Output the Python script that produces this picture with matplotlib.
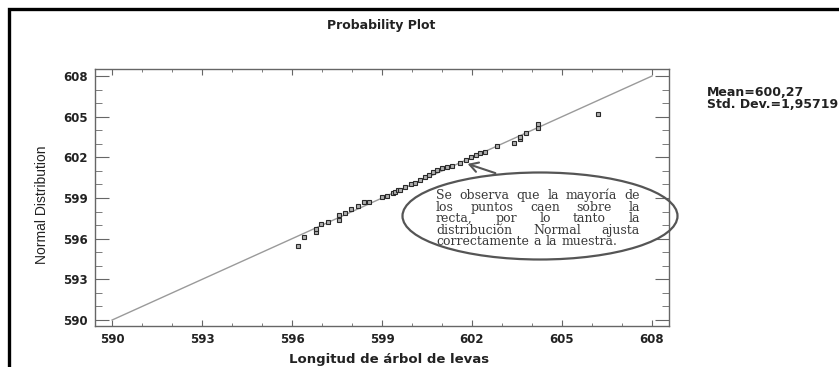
import matplotlib
matplotlib.use("Agg")
import matplotlib.pyplot as plt
from matplotlib.patches import Ellipse, Rectangle, FancyArrowPatch
from matplotlib.ticker import MultipleLocator

# Data
sample = [596.2, 596.4, 596.8, 596.8, 596.97, 597.2, 597.57, 597.57, 597.77, 597.97,
          598.2, 598.4, 598.57, 599.0, 599.17, 599.37, 599.43, 599.53, 599.6, 599.77,
          599.97, 600.1, 600.27, 600.43, 600.57, 600.7, 600.83, 601.0, 601.17, 601.33,
          601.6, 601.8, 601.97, 602.13, 602.27, 602.43, 602.83, 603.4, 603.6, 603.6,
          603.8, 604.2, 604.2, 606.2]
normal_q = [595.46, 596.1, 596.5, 596.7, 597.08, 597.2, 597.37, 597.74, 597.89, 598.19,
            598.4, 598.7, 598.7, 599.07, 599.14, 599.37, 599.44, 599.59, 599.59, 599.8,
            600.03, 600.1, 600.32, 600.55, 600.69, 600.9, 601.06, 601.2, 601.28, 601.36,
            601.58, 601.8, 602.0, 602.17, 602.3, 602.4, 602.83, 603.05, 603.35, 603.5,
            603.8, 604.16, 604.45, 605.2]
fit_line = [590, 608]
ticks = [590, 593, 596, 599, 602, 605, 608]
mean_txt = "Mean=600,27"
std_txt = "Std. Dev.=1,95719"
note_lines = ["Se observa que la mayoría de",
              "los puntos caen sobre la",
              "recta, por lo tanto la",
              "distribución Normal ajusta",
              "correctamente a la muestra."]

W, H = 839, 367
fig = plt.figure(figsize=(W / 100, H / 100), dpi=100)
fig.patch.set_facecolor("white")

def fx(px):
    return px / W
def fy(py):
    return 1 - py / H

SANS = "DejaVu Sans"
TXT = "#222222"

# outer frame
fig.patches.append(Rectangle((fx(9), fy(400)), 1.2, fy(9) - fy(400), transform=fig.transFigure,
                             fill=False, edgecolor="black", linewidth=2.4))

ax = fig.add_axes([fx(95), fy(326), fx(669) - fx(95), fy(69) - fy(326)])
ax.plot(fit_line, fit_line, color="#9a9a9a", linewidth=1.0, zorder=2)
ax.plot(sample, normal_q, linestyle="none", marker="s", markersize=3.3,
        markerfacecolor="#b0b0b0", markeredgecolor="#2a2a2a", markeredgewidth=0.8, zorder=3)

ax.set_xlim(589.43, 608.57)
ax.set_ylim(589.56, 608.52)
ax.set_xticks(ticks)
ax.set_yticks(ticks)
ax.xaxis.set_minor_locator(MultipleLocator(1))
ax.yaxis.set_minor_locator(MultipleLocator(1))
for s in ax.spines.values():
    s.set_color("#666666")
    s.set_linewidth(1.0)
ax.tick_params(which="both", direction="in", top=True, right=True, colors="#666666",
               labelcolor=TXT, labelsize=8.5)
ax.tick_params(axis="x", which="major", length=4, pad=5)
ax.tick_params(axis="x", which="minor", length=2)
ax.tick_params(axis="y", which="major", length=10, pad=5)
ax.tick_params(axis="y", which="minor", length=5)
for lab in ax.get_xticklabels() + ax.get_yticklabels():
    lab.set_fontweight("bold")
    lab.set_family(SANS)

fig.text(fx(381), fy(26), "Probability Plot", ha="center", va="center",
         fontsize=9, fontweight="bold", family=SANS, color=TXT)
fig.text(fx(389), fy(360), "Longitud de árbol de levas", ha="center", va="center",
         fontsize=9.5, fontweight="bold", family=SANS, color=TXT)
fig.text(fx(42), fy(205), "Normal Distribution", ha="center", va="center", rotation=90,
         fontsize=10, family=["Liberation Sans Narrow", "Liberation Sans"], color=TXT)
fig.text(fx(707), fy(92), mean_txt, ha="left", va="center",
         fontsize=9, fontweight="bold", family=SANS, color=TXT)
fig.text(fx(707), fy(104), std_txt, ha="left", va="center",
         fontsize=9, fontweight="bold", family=SANS, color=TXT)

# ellipse annotation
fig.patches.append(Ellipse((fx(540), fy(216)), fx(275), 87 / H, transform=fig.transFigure,
                           fill=False, edgecolor="#555555", linewidth=1.6))
fig.patches.append(FancyArrowPatch(
    (fx(498), fy(174)), (fx(465), fy(163)), transform=fig.transFigure,
    arrowstyle="->,head_length=6,head_width=3.5", color="#555555", linewidth=1.5))

# justified paragraph, word by word
renderer = fig.canvas.get_renderer()
left_px, right_px = 436, 640
line_y = [199, 210.6, 222.2, 233.8, 245.4]
for i, line in enumerate(note_lines):
    words = line.split()
    objs = [fig.text(0, fy(line_y[i]), w, ha="left", va="baseline", fontsize=9,
                     family="DejaVu Serif", color="#3a3a3a") for w in words]
    widths = [o.get_window_extent(renderer).width for o in objs]
    if i < len(note_lines) - 1 and len(words) > 1:
        gap = (right_px - left_px - sum(widths)) / (len(words) - 1)
    else:
        gap = renderer.points_to_pixels(9) * 0.36
    x = left_px
    for o, w in zip(objs, widths):
        o.set_x(fx(x))
        x += w + gap

fig.savefig("out.png", dpi=100)
